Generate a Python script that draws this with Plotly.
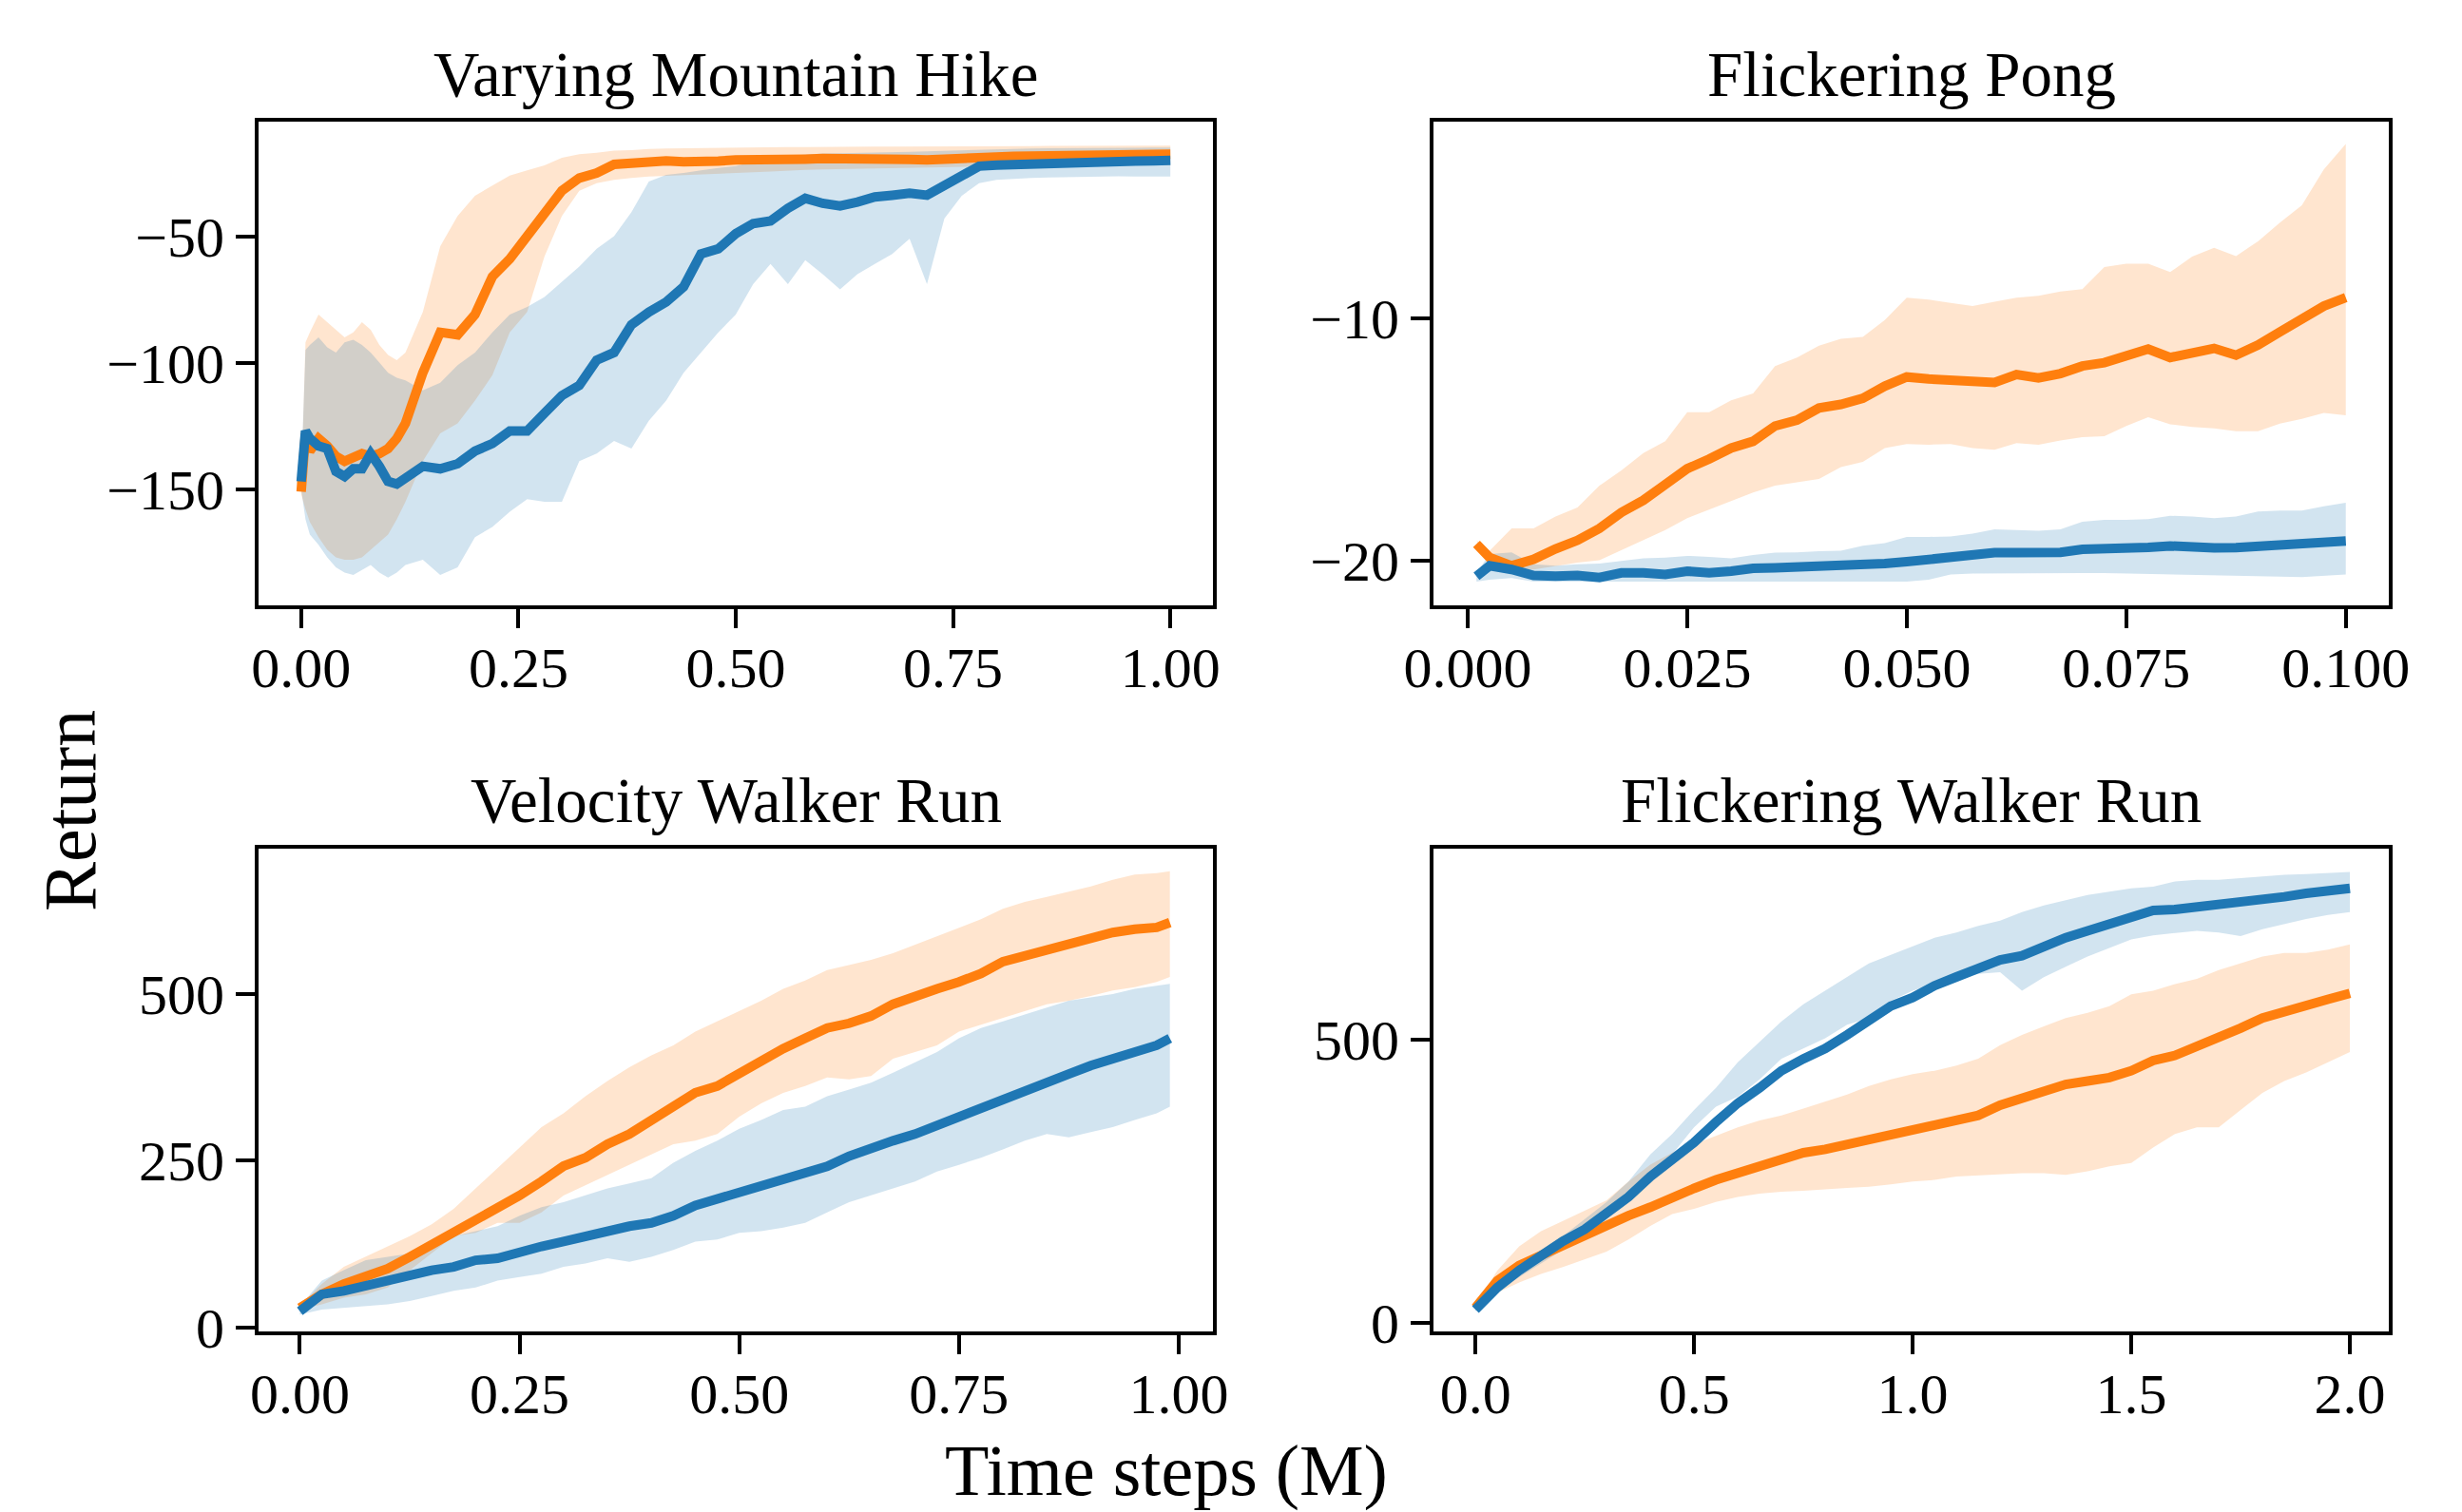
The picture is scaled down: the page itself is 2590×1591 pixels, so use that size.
import plotly.graph_objects as go

# ---------------- Panel 1: Varying Mountain Hike ----------------
P1_X = [0.0, 0.005, 0.01, 0.02, 0.03, 0.04, 0.05, 0.06, 0.07, 0.08, 0.09, 0.10, 0.11, 0.12,
        0.14, 0.16, 0.18, 0.20, 0.22, 0.24, 0.26, 0.28, 0.30, 0.32, 0.34, 0.36, 0.38, 0.40, 0.42, 0.44,
        0.46, 0.48, 0.50, 0.52, 0.54, 0.56, 0.58, 0.60, 0.62, 0.64, 0.66, 0.68, 0.70, 0.72, 0.74, 0.76,
        0.78, 0.80, 0.82, 0.84, 0.86, 0.88, 0.90, 0.92, 0.94, 0.96, 0.98, 1.00]
P1_ORANGE_MEAN = [-151, -128, -135, -130, -133, -137, -139, -137, -136, -137, -136, -134, -130, -124,
                  -104, -88, -89, -81, -66, -59, -50, -40, -32, -27, -25, -21.6, -21, -20.5, -20.2, -20.6,
                  -20.8, -20.3, -19.8, -19.9, -19.6, -19.4, -19.5, -19.3, -19.2, -19.4, -19.3, -19.5, -19.6, -19.8, -19.4, -18.9,
                  -18.6, -18.5, -18.4, -18.3, -18.2, -18.1, -18.0, -17.9, -17.8, -17.8, -17.7, -17.6]
P1_ORANGE_UP = [-150, -92, -88, -81, -84, -87, -90, -88, -84, -87, -93, -97, -99, -96,
                -80, -54, -42, -34, -30, -26, -24, -22, -19, -17.6, -17, -16.2, -16, -15.5, -15.3, -15.2,
                -15.1, -15, -14.9, -14.9, -14.8, -14.8, -14.8, -14.7, -14.7, -14.7, -14.6, -14.6, -14.6, -14.5, -14.5, -14.5,
                -14.4, -14.4, -14.4, -14.4, -14.3, -14.3, -14.3, -14.3, -14.2, -14.2, -14.2, -14.2]
P1_ORANGE_LOW = [-152, -158, -163, -169, -174, -177, -178, -178, -177, -174, -171, -168, -162, -155,
                 -139, -128, -124, -115, -105, -88, -80, -58, -42, -32, -29, -27.7, -27, -26.4, -26, -25.8,
                 -25.5, -25.3, -25, -24.7, -24.4, -24, -23.8, -23.6, -23.5, -23.4, -23.3, -23.2, -23, -23, -22.8, -22.6,
                 -22.5, -22.4, -22.3, -22.3, -22.2, -22.2, -22.1, -22.1, -22.0, -22.0, -21.9, -21.9]
P1_BLUE_MEAN = [-147, -127, -130, -133, -134, -143, -145, -142, -142, -136, -141, -147, -148, -146,
                -141, -142, -140, -135, -132, -127, -127, -120, -113, -109, -99, -96, -85, -80, -76, -70,
                -57, -55, -49, -45, -44, -39, -35, -37, -38, -36.5, -34.5, -33.8, -33, -33.8, -29.7, -25.7,
                -22.3, -21.9, -21.6, -21.2, -21.1, -21.0, -20.9, -20.7, -20.5, -20.3, -20.2, -20.0]
P1_BLUE_UP = [-145, -95, -93, -90, -94, -96, -92, -91, -93, -96, -100, -104, -106, -107,
              -111, -108, -101, -96, -88, -81, -78, -74, -68, -62, -55, -50, -40.5, -28.4, -25.7, -25,
              -24, -23, -22.3, -20.5, -19, -18.2, -17.8, -17.3, -17.2, -17.1, -17, -16.8, -16.6, -16.4, -16.2, -16,
              -15.8, -15.5, -15.4, -15.3, -15.2, -15.2, -15.1, -15.1, -15.0, -15.0, -14.9, -14.9]
P1_BLUE_LOW = [-150, -162, -168, -172, -177, -181, -183, -184, -182, -180, -183, -185, -183, -180,
               -178, -184, -181, -169, -165, -159, -154, -155, -155, -139, -136, -131, -134, -123, -115, -104,
               -96, -88, -81, -69, -61, -69, -59.5, -65, -71, -65, -61, -57, -51, -69, -43, -34,
               -29, -27.7, -27.3, -27, -26.8, -26.6, -26.4, -26.4, -26.3, -26.4, -26.5, -26.4]

# ---------------- Panel 2: Flickering Pong ----------------
P2_X = [0.001, 0.0025, 0.005, 0.0075, 0.010, 0.0125, 0.015, 0.0175, 0.020, 0.0225, 0.025, 0.0275, 0.030,
        0.0325, 0.035, 0.0375, 0.040, 0.0425, 0.045, 0.0475, 0.050, 0.0525, 0.055, 0.0575, 0.060, 0.0625,
        0.065, 0.0675, 0.070, 0.0725, 0.075, 0.0775, 0.080, 0.0825, 0.085, 0.0875, 0.090, 0.0925, 0.095,
        0.0975, 0.100]
P2_ORANGE_MEAN = [-19.3, -19.86, -20.2, -19.93, -19.5, -19.15, -18.66, -18.0, -17.5, -16.9, -16.2, -15.8, -15.35,
                  -15.07, -14.44, -14.2, -13.7, -13.55, -13.3, -12.8, -12.42, -12.5, -12.54, -12.65, -12.65, -12.32,
                  -12.46, -12.28, -11.97, -11.83, -11.58, -11.27, -11.62, -11.4, -11.24, -11.52, -11.1, -10.56, -10.07,
                  -9.5, -9.15]
P2_ORANGE_UP = [-19.15, -19.58, -18.66, -18.66, -18.17, -17.8, -16.9, -16.27, -15.56, -15.07, -13.87, -13.87, -13.38,
                -13.1, -11.97, -11.62, -11.13, -10.85, -10.77, -10.07, -9.15, -9.23, -9.37, -9.5, -9.32, -9.15,
                -9.08, -8.9, -8.8, -7.89, -7.75, -7.75, -8.1, -7.46, -7.1, -7.44, -6.83, -6.06, -5.35,
                -3.87, -2.82]
P2_ORANGE_LOW = [-19.15, -20.2, -20.42, -20.35, -20.2, -20.07, -19.97, -19.58, -19.15, -18.73, -18.24, -17.89, -17.54,
                 -17.18, -16.9, -16.76, -16.62, -16.13, -15.92, -15.35, -15.18, -15.21, -15.18, -15.35, -15.42, -15.14,
                 -15.21, -15.04, -14.9, -14.86, -14.44, -14.08, -14.37, -14.48, -14.54, -14.65, -14.65, -14.34, -14.15,
                 -13.9, -14.0]
P2_BLUE_MEAN = [-20.63, -20.2, -20.35, -20.6, -20.63, -20.6, -20.68, -20.49, -20.49, -20.56, -20.42, -20.49, -20.42,
                -20.3, -20.28, -20.25, -20.23, -20.25, -20.14, -20.11, -20.03, -19.92, -19.79, -19.72, -19.66, -19.66,
                -19.66, -19.65, -19.52, -19.51, -19.52, -19.44, -19.38, -19.44, -19.46, -19.45, -19.41, -19.32, -19.3,
                -19.22, -19.18]
P2_BLUE_UP = [-20.49, -19.72, -19.65, -20.14, -20.2, -20.14, -20.11, -20.0, -19.89, -19.86, -19.79, -19.83, -19.89,
              -19.75, -19.66, -19.65, -19.6, -19.58, -19.37, -19.27, -19.01, -19.01, -18.99, -18.87, -18.7, -18.73,
              -18.76, -18.7, -18.38, -18.31, -18.31, -18.28, -18.14, -18.17, -18.24, -18.17, -17.96, -17.92, -17.92,
              -17.75, -17.6]
P2_BLUE_LOW = [-20.85, -20.77, -20.7, -20.85, -20.85, -20.85, -20.86, -20.86, -20.86, -20.86, -20.87, -20.87, -20.86,
               -20.86, -20.86, -20.86, -20.86, -20.86, -20.85, -20.85, -20.85, -20.77, -20.56, -20.52, -20.5, -20.5,
               -20.5, -20.5, -20.5, -20.5, -20.5, -20.52, -20.54, -20.56, -20.58, -20.6, -20.63, -20.65, -20.67,
               -20.6, -20.56]

# ---------------- Panel 3: Velocity Walker Run ----------------
P3_X = [0.0, 0.025, 0.05, 0.075, 0.10, 0.125, 0.15, 0.175, 0.20, 0.225, 0.25, 0.275, 0.30, 0.325, 0.35,
        0.375, 0.40, 0.425, 0.45, 0.475, 0.50, 0.525, 0.55, 0.575, 0.60, 0.625, 0.65, 0.675, 0.70, 0.725,
        0.75, 0.775, 0.80, 0.825, 0.85, 0.875, 0.90, 0.925, 0.95, 0.975, 0.99]
P3_ORANGE_MEAN = [29.6, 50, 65.4, 75.7, 88.4, 106, 124, 142, 162.6, 178, 198, 219, 242, 254.6, 275,
                  290, 311, 331, 352, 362, 382, 398, 418, 433.5, 449, 456, 467, 484.6, 497, 507.6,
                  518, 530.6, 548.5, 557, 566.5, 574, 584, 592, 597, 599.6, 607]
P3_ORANGE_UP = [32, 65.4, 91, 106, 121.7, 137, 155, 178, 208.6, 239, 270, 300.6, 321, 346.6, 369.6,
                390, 408, 423, 443.7, 459, 474.5, 489.7, 507.6, 520, 535.7, 543, 551, 561, 574, 586.9,
                599.6, 612, 627.8, 638, 645.6, 653, 661, 671, 679, 681, 684]
P3_ORANGE_LOW = [27, 35, 45, 50, 60, 86, 111, 137, 142, 157, 157, 172.8, 198, 213.7, 229,
                 244, 259.7, 275, 280, 290, 316, 336, 351.7, 362, 374.7, 372, 377, 403, 413, 423,
                 443.7, 454, 464, 474.5, 484.6, 489.7, 497, 505, 510, 518, 525.5]
P3_BLUE_MEAN = [24.5, 50, 55, 63, 70.5, 78, 86, 91, 101, 103.8, 114, 121.7, 129, 137, 144.7,
                152, 157, 167.7, 183, 193, 203.5, 213.7, 221, 231.6, 241.8, 257, 270, 280, 290, 303,
                318.5, 331, 344, 356.8, 369.6, 380, 392.6, 402.8, 415.6, 423, 433.5]
P3_BLUE_UP = [32, 70.5, 86, 101, 106, 111, 121.7, 137, 144.7, 152, 167.7, 180.5, 188, 198, 208.6,
              216, 224, 247, 265, 280, 298, 311, 326, 331, 346.6, 356.8, 367, 382, 397.7, 413,
              433.5, 449, 459, 469, 479.5, 489.7, 494.8, 500, 507.6, 512.7, 515]
P3_BLUE_LOW = [19.4, 27, 29.6, 32, 34.8, 40, 47.5, 55, 60, 70.5, 75.7, 80.8, 91, 96, 103.8,
               98.7, 106, 116.5, 129, 132, 142, 144.7, 150, 157, 172.8, 188, 198, 208.6, 219, 234,
               244, 254.6, 267, 280, 290, 285, 293, 300.6, 311, 321, 331]

# ---------------- Panel 4: Flickering Walker Run ----------------
P4_X = [0.0, 0.05, 0.10, 0.15, 0.20, 0.25, 0.30, 0.35, 0.40, 0.45, 0.50, 0.55, 0.60, 0.65, 0.70,
        0.75, 0.80, 0.85, 0.90, 0.95, 1.00, 1.05, 1.10, 1.15, 1.20, 1.25, 1.30, 1.35, 1.40, 1.45,
        1.50, 1.55, 1.60, 1.65, 1.70, 1.75, 1.80, 1.85, 1.90, 1.95, 2.00]
P4_BLUE_MEAN = [24, 63, 93, 120, 144.6, 165.7, 195.8, 223, 259, 289, 319, 355, 388.5, 415.6, 445.8,
                466.9, 485, 509, 533, 560, 575, 596, 611.4, 626.5, 641.6, 648.8, 665.6, 680.7, 692.8, 704.8,
                716.8, 728.9, 730.7, 734.9, 737.9, 740.9, 747, 753, 759, 762, 768]
P4_BLUE_UP = [27, 72, 102, 129.5, 153.6, 183.7, 213.9, 250, 298, 334, 376.5, 415.6, 460.8, 497, 533,
              563, 587, 611.4, 635.5, 650.6, 665.6, 680.7, 689.8, 701.8, 710.8, 725.9, 737.9, 747, 756, 762,
              768, 771, 780, 783, 783, 786, 789, 792, 793, 795, 797]
P4_BLUE_LOW = [21, 57, 81, 105, 129.5, 153.6, 183.7, 226, 268, 298, 346, 382.5, 400, 430.7, 467,
               485, 503, 527, 539, 569, 587, 599, 608, 617, 620, 587, 611, 629.5, 647.6, 662.6,
               677.7, 685, 688.6, 692.8, 689.8, 683.7, 695.8, 704.8, 713.9, 721, 726]
P4_ORANGE_MEAN = [27, 75, 102, 120, 138.6, 156.6, 174.7, 189.8, 204.8, 222.9, 238, 253, 265, 277, 289,
                  301, 307, 316, 325, 331, 340, 352, 361, 367, 385, 397.6, 412.6, 421.7, 427.7, 433.7,
                  445.8, 463.8, 472.9, 488, 503, 521, 539, 551, 560, 572, 582.5]
P4_ORANGE_UP = [33, 93, 135.5, 162.6, 180.7, 198.8, 216.9, 250, 280, 301, 316, 331, 346, 358, 367,
                379, 391.6, 403.6, 418.7, 430.7, 439.7, 445.8, 454.8, 466.9, 491, 509, 524, 539, 548, 560,
                581, 587, 599, 608, 623.5, 635.5, 647.6, 653.6, 653.6, 659.6, 668.7]
P4_ORANGE_LOW = [24, 54, 72, 87, 99, 112.6, 126.5, 147.6, 171.7, 192.8, 201.8, 213.9, 222.9, 228.9, 232,
                 234, 236, 239, 241, 245, 250, 253, 259, 261, 263, 265, 265, 262, 268, 277,
                 283, 310, 334, 346, 346, 376.5, 406.6, 427.7, 442.8, 460.8, 478.9]

TITLES = ["Varying Mountain Hike", "Flickering Pong", "Velocity Walker Run", "Flickering Walker Run"]
X_TICKS = [[0.0, 0.25, 0.5, 0.75, 1.0], [0.0, 0.025, 0.05, 0.075, 0.1],
           [0.0, 0.25, 0.5, 0.75, 1.0], [0.0, 0.5, 1.0, 1.5, 2.0]]
X_TICKTEXT = [["0.00", "0.25", "0.50", "0.75", "1.00"], ["0.000", "0.025", "0.050", "0.075", "0.100"],
              ["0.00", "0.25", "0.50", "0.75", "1.00"], ["0.0", "0.5", "1.0", "1.5", "2.0"]]
Y_TICKS = [[-50, -100, -150], [-10, -20], [0, 250, 500], [0, 500]]
Y_TICKTEXT = [["\u221250", "\u2212100", "\u2212150"], ["\u221210", "\u221220"], ["0", "250", "500"], ["0", "500"]]
X_LABEL = "Time steps (M)"
Y_LABEL = "Return"

BLUE = "#1f77b4"
ORANGE = "#ff7f0e"
BLUE_FILL = "rgba(31,119,180,0.2)"
ORANGE_FILL = "rgba(255,127,14,0.2)"
FONT = "Liberation Serif"

W, H = 2590, 1591
# axes boxes in pixels: left, right, top, bottom
BOXES = [(272, 1276, 128, 637), (1508, 2513, 128, 637), (272, 1276, 893, 1401), (1508, 2513, 893, 1401)]
X_RANGES = [[-0.049, 1.049], [-0.0039, 0.1049], [-0.047, 1.039], [-0.096, 2.089]]
Y_RANGES = [[-196, -4.7], [-21.83, -1.9], [-5.7, 717.7], [-14.6, 838]]

panels = [
    (P1_X, P1_ORANGE_MEAN, P1_ORANGE_UP, P1_ORANGE_LOW, P1_BLUE_MEAN, P1_BLUE_UP, P1_BLUE_LOW),
    (P2_X, P2_ORANGE_MEAN, P2_ORANGE_UP, P2_ORANGE_LOW, P2_BLUE_MEAN, P2_BLUE_UP, P2_BLUE_LOW),
    (P3_X, P3_ORANGE_MEAN, P3_ORANGE_UP, P3_ORANGE_LOW, P3_BLUE_MEAN, P3_BLUE_UP, P3_BLUE_LOW),
    (P4_X, P4_ORANGE_MEAN, P4_ORANGE_UP, P4_ORANGE_LOW, P4_BLUE_MEAN, P4_BLUE_UP, P4_BLUE_LOW),
]

fig = go.Figure()
layout = dict(width=W, height=H, margin=dict(l=0, r=0, t=0, b=0, autoexpand=False),
              paper_bgcolor="white", plot_bgcolor="white", showlegend=False)
annotations = []

for i, (x, om, ou, ol, bm, bu, bl) in enumerate(panels):
    for arr in (om, ou, ol, bm, bu, bl):
        assert len(arr) == len(x), (i, len(arr), len(x))
    n = i + 1
    xa = "x" if n == 1 else f"x{n}"
    ya = "y" if n == 1 else f"y{n}"
    xr = x[::-1]
    fig.add_trace(go.Scatter(x=list(x) + list(xr), y=list(ou) + list(ol[::-1]), fill="toself",
                             fillcolor=ORANGE_FILL, line=dict(width=0), mode="lines",
                             hoverinfo="skip", xaxis=xa, yaxis=ya))
    fig.add_trace(go.Scatter(x=list(x) + list(xr), y=list(bu) + list(bl[::-1]), fill="toself",
                             fillcolor=BLUE_FILL, line=dict(width=0), mode="lines",
                             hoverinfo="skip", xaxis=xa, yaxis=ya))
    fig.add_trace(go.Scatter(x=x, y=om, mode="lines", line=dict(color=ORANGE, width=10),
                             xaxis=xa, yaxis=ya))
    fig.add_trace(go.Scatter(x=x, y=bm, mode="lines", line=dict(color=BLUE, width=10),
                             xaxis=xa, yaxis=ya))

    l, r, t, b = BOXES[i]
    common = dict(showline=True, mirror=True, linecolor="black", linewidth=4, ticks="outside",
                  ticklen=20, tickwidth=4, tickcolor="black", showgrid=False, zeroline=False,
                  automargin=False, tickfont=dict(family=FONT, size=60, color="black"))
    layout["xaxis" if n == 1 else f"xaxis{n}"] = dict(
        domain=[l / W, r / W], range=X_RANGES[i], anchor=ya, tickvals=X_TICKS[i],
        ticktext=X_TICKTEXT[i], ticklabelstandoff=-10, **common)
    layout["yaxis" if n == 1 else f"yaxis{n}"] = dict(
        domain=[1 - b / H, 1 - t / H], range=Y_RANGES[i], anchor=xa, tickvals=Y_TICKS[i],
        ticktext=Y_TICKTEXT[i], **common)
    title_y = 78 if i < 2 else 842
    annotations.append(dict(text=TITLES[i], x=(l + r) / 2 / W, y=1 - title_y / H, xref="paper",
                            yref="paper", xanchor="center", yanchor="middle", showarrow=False,
                            font=dict(family=FONT, size=67, color="black")))

annotations.append(dict(text=X_LABEL, x=1227 / W, y=1 - 1547 / H, xref="paper", yref="paper",
                        xanchor="center", yanchor="middle", showarrow=False,
                        font=dict(family=FONT, size=76, color="black")))
annotations.append(dict(text=Y_LABEL, x=74 / W, y=1 - 853 / H, xref="paper", yref="paper",
                        xanchor="center", yanchor="middle", showarrow=False, textangle=-90,
                        font=dict(family=FONT, size=78, color="black")))
layout["annotations"] = annotations
fig.update_layout(**layout)
fig.write_html("out.html", config={"displayModeBar": False},
               post_script="document.body.style.margin='0';document.body.style.padding='0';"
                           "document.body.style.overflow='hidden';")
